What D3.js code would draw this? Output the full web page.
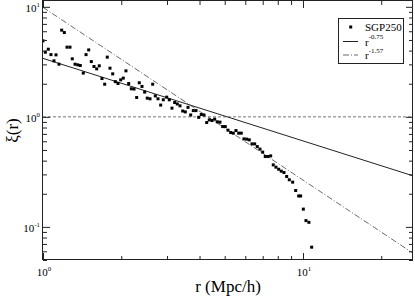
<!DOCTYPE html>
<html>
<head>
<meta charset="utf-8">
<script src="https://cdn.jsdelivr.net/npm/d3@7"></script>
<style>
body { margin: 0; background: #fff; }
svg { display: block; font-family: "Liberation Serif", "Times New Roman", serif; }
</style>
</head>
<body>
<div id="graphic"></div>
<script>
// SGP250 correlation function
var rValues = [1.000, 1.021, 1.048, 1.073, 1.102, 1.122, 1.152, 1.180, 1.208, 1.237,
	1.270, 1.296, 1.328, 1.360, 1.391, 1.429, 1.464, 1.499, 1.534, 1.571,
	1.609, 1.646, 1.686, 1.727, 1.767, 1.810, 1.854, 1.897, 1.943, 1.990,
	2.036, 2.085, 2.136, 2.186, 2.239, 2.293, 2.346, 2.403, 2.461, 2.518,
	2.580, 2.642, 2.704, 2.769, 2.836, 2.902, 2.991, 3.061, 3.134, 3.210,
	3.285, 3.365, 3.446, 3.527, 3.612, 3.699, 3.785, 3.877, 3.970, 4.063,
	4.160, 4.263, 4.362, 4.467, 4.575, 4.682, 4.795, 4.911, 5.025, 5.146,
	5.272, 5.395, 5.525, 5.659, 5.790, 5.930, 6.073, 6.214, 6.365, 6.519,
	6.671, 6.833, 6.998, 7.161, 7.335, 7.512, 7.687, 7.871, 8.064, 8.252,
	8.452, 8.656, 8.858, 9.128, 9.375, 9.627, 9.796, 10.03, 10.27, 10.54, 10.80];
var xiValues = [4.91, 3.87, 4.12, 3.68, 3.23, 3.66, 3.01, 6.14, 5.84, 4.30,
	4.30, 3.37, 3.01, 2.97, 2.93, 2.50, 3.68, 4.06, 3.18, 2.87,
	2.73, 2.91, 2.23, 1.98, 3.49, 2.77, 2.46, 2.09, 2.01, 2.17,
	2.25, 2.62, 2.01, 1.80, 1.79, 1.50, 2.04, 1.89, 1.68, 1.48,
	1.46, 1.98, 1.55, 1.46, 1.28, 1.43, 1.51, 1.43, 1.20, 1.35,
	1.31, 1.26, 1.13, 1.11, 1.22, 1.04, 1.14, 1.14, 0.99, 1.05,
	1.04, 0.888, 0.939, 0.926, 0.953, 0.901, 0.895, 0.816, 0.816, 0.757,
	0.720, 0.711, 0.751, 0.711, 0.711, 0.631, 0.627, 0.618, 0.568, 0.568,
	0.537, 0.509, 0.478, 0.436, 0.436, 0.442, 0.366, 0.349, 0.334, 0.321,
	0.312, 0.287, 0.268, 0.255, 0.214, 0.191, 0.191, 0.145, 0.114, 0.110, 0.0654];

// power law fits r^-gamma
var lawExponents = [0.75, 1.57];
var lawAmplitudes = [3.4, 9.9];
var lawLabels = ["-0.75", "-1.57"];
var seriesName = "SGP250";

var xMajor = [1, 10];
var xMajorExp = ["0", "1"];
var yMajor = [0.1, 1, 10];
var yMajorExp = ["-1", "0", "1"];

var width = 415, height = 297;
var margin = {top: 1, right: 2, bottom: 37, left: 43};

var svg = d3.select("#graphic").append("svg")
	.attr("width", width)
	.attr("height", height);

var x = d3.scaleLog().domain([1, 26.5]).range([margin.left, width - margin.right]);
var y = d3.scaleLog().domain([0.05, 11.3]).range([height - margin.bottom, margin.top]);

var x0 = x.range()[0], x1 = x.range()[1];
var y0 = y.range()[0], y1 = y.range()[1];

svg.append("clipPath").attr("id", "clip")
	.append("rect")
	.attr("x", x0).attr("y", y1)
	.attr("width", x1 - x0).attr("height", y0 - y1);

var plot = svg.append("g").attr("clip-path", "url(#clip)");

// xi = 1 reference
plot.append("line")
	.attr("x1", x0).attr("x2", x1)
	.attr("y1", y(1)).attr("y2", y(1))
	.attr("stroke", "#777")
	.attr("stroke-width", 1)
	.attr("stroke-dasharray", "3,2");

var line = d3.line()
	.x(function(d) { return x(d[0]); })
	.y(function(d) { return y(d[1]); });

var lawStyles = [null, "6,2,1,2"];
lawExponents.forEach(function(g, i) {
	var pts = x.domain().map(function(r) { return [r, lawAmplitudes[i] * Math.pow(r, -g)]; });
	plot.append("path")
		.attr("d", line(pts))
		.attr("fill", "none")
		.attr("stroke", i == 0 ? "#222" : "#444")
		.attr("stroke-width", i == 0 ? 1 : 0.8)
		.attr("stroke-dasharray", lawStyles[i]);
});

var data = rValues.map(function(r, i) { return {r: r, xi: xiValues[i]}; });
var ms = 3;
plot.selectAll(".pt").data(data).enter()
	.append("rect")
	.attr("class", "pt")
	.attr("x", function(d) { return x(d.r) - ms / 2; })
	.attr("y", function(d) { return y(d.xi) - ms / 2; })
	.attr("width", ms).attr("height", ms)
	.attr("fill", "#000");

// ticks on all four sides, pointing inward
var xMinor = x.ticks().filter(function(t) { return xMajor.indexOf(t) < 0; });
var yMinor = y.ticks().filter(function(t) { return yMajor.indexOf(+t.toPrecision(3)) < 0; });

function tickAxis(axisFn, scale, vals, size, tx, ty) {
	var g = svg.append("g")
		.attr("transform", "translate(" + tx + "," + ty + ")")
		.call(axisFn(scale).tickValues(vals).tickSize(-size).tickFormat(""));
	g.select(".domain").remove();
	g.selectAll("line").attr("stroke", "#222");
}
tickAxis(d3.axisBottom, x, xMajor, 7, 0, y0);
tickAxis(d3.axisBottom, x, xMinor, 4, 0, y0);
tickAxis(d3.axisTop, x, xMajor, 7, 0, y1);
tickAxis(d3.axisTop, x, xMinor, 4, 0, y1);
tickAxis(d3.axisLeft, y, yMajor, 7, x0, 0);
tickAxis(d3.axisLeft, y, yMinor, 4, x0, 0);
tickAxis(d3.axisRight, y, yMajor, 7, x1, 0);
tickAxis(d3.axisRight, y, yMinor, 4, x1, 0);

svg.append("rect")
	.attr("x", x0 - 0.5).attr("y", y1 - 0.5)
	.attr("width", x1 - x0).attr("height", y0 - y1)
	.attr("fill", "none")
	.attr("stroke", "#222")
	.attr("stroke-width", 1);

// tick labels like 10^n
function powerLabel(g, base, exp, px, py, anchor, size) {
	var t = g.append("text")
		.attr("x", px).attr("y", py)
		.attr("text-anchor", anchor)
		.attr("font-size", size)
		.attr("fill", "#000");
	t.append("tspan").text(base);
	t.append("tspan").attr("dy", -size * 0.42).attr("font-size", size * 0.62).text(exp);
	return t;
}

xMajor.forEach(function(v, i) {
	powerLabel(svg, "10", xMajorExp[i], x(v) + 1, y0 + 16, "middle", 11);
});
yMajor.forEach(function(v, i) {
	powerLabel(svg, "10", yMajorExp[i], x0 - 3, y(v) + 5, "end", 11);
});

svg.append("text")
	.attr("x", (x0 + x1) / 2)
	.attr("y", 292)
	.attr("text-anchor", "middle")
	.attr("font-size", 17)
	.text("r (Mpc/h)");

svg.append("text")
	.attr("transform", "translate(18," + (y0 + y1) / 2 + ") rotate(-90)")
	.attr("text-anchor", "middle")
	.attr("font-size", 17)
	.text("ξ(r)");

// legend
var legend = svg.append("g");
legend.append("rect")
	.attr("x", 338.5).attr("y", 18.5)
	.attr("width", 65).attr("height", 45)
	.attr("fill", "#fff")
	.attr("stroke", "#222");
legend.append("rect")
	.attr("x", 350.7 - ms / 2).attr("y", 27 - ms / 2)
	.attr("width", ms).attr("height", ms)
	.attr("fill", "#000");
legend.append("text")
	.attr("x", 365).attr("y", 30.5)
	.attr("font-size", 11)
	.text(seriesName);

var legendRows = [41.5, 55];
lawExponents.forEach(function(g, i) {
	legend.append("line")
		.attr("x1", 343).attr("x2", 358)
		.attr("y1", legendRows[i]).attr("y2", legendRows[i])
		.attr("stroke", i == 0 ? "#222" : "#444")
		.attr("stroke-width", i == 0 ? 1 : 0.8)
		.attr("stroke-dasharray", lawStyles[i]);
	var t = legend.append("text")
		.attr("x", 365).attr("y", legendRows[i] + 4)
		.attr("font-size", 11);
	t.append("tspan").text("r");
	t.append("tspan").attr("dy", -6.5).attr("font-size", 7).text(lawLabels[i]);
});
</script>
</body>
</html>
